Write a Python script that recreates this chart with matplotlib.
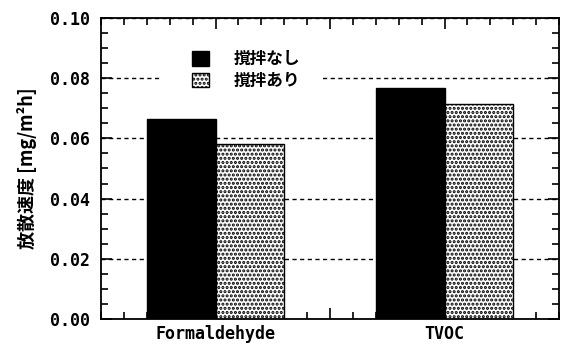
import matplotlib
matplotlib.use("Agg")
import matplotlib.pyplot as plt
from matplotlib.patches import Rectangle, Patch
from matplotlib.ticker import MultipleLocator, FixedLocator
import numpy as np

plt.rcParams['hatch.linewidth'] = 1.5

categories = ["Formaldehyde", "TVOC"]
series_names = ["撹拌なし", "撹拌あり"]
no_stirring = [0.0664, 0.0767]
with_stirring = [0.0582, 0.0713]
y_ticks = [0.00, 0.02, 0.04, 0.06, 0.08, 0.10]
y_tick_labels = ["0.00", "0.02", "0.04", "0.06", "0.08", "0.10"]
y_label = "放散速度 [mg/m²h]"

jp_bold = dict(family=['Noto Sans CJK JP', 'DejaVu Sans'], weight='bold')
mono_bold = dict(family='DejaVu Sans Mono', weight='bold')
dots = '....'

fig = plt.figure(figsize=(5.63, 3.44), dpi=100)
ax = fig.add_axes([0.1794, 0.0727, 0.8135, 0.875])

x = np.arange(len(categories))
w = 0.3
ax.bar(x - w / 2, no_stirring, width=w, color='black', edgecolor='black',
       linewidth=1.0, zorder=2, label=series_names[0])
ax.bar(x + w / 2, with_stirring, width=w, color='white', edgecolor='black',
       hatch=dots, linewidth=1.0, zorder=2, label=series_names[1])

ax.set_xlim(-0.5, 1.5)
ax.set_ylim(0, 0.10)

# dashed horizontal grid behind the bars
ax.set_axisbelow(True)
ax.yaxis.grid(True, linestyle=(0, (3, 2.5)), color='black', linewidth=1.0)
ax.xaxis.grid(False)

# white panel under the legend interrupts the grid
ax.add_patch(Rectangle((0.129, 0.728), 0.349, 0.2, transform=ax.transAxes,
                       facecolor='white', edgecolor='none', zorder=1))

ax.yaxis.set_major_locator(FixedLocator(y_ticks))
ax.set_yticklabels(y_tick_labels, fontsize=12, **mono_bold)
ax.yaxis.set_minor_locator(MultipleLocator(0.005))

ax.xaxis.set_major_locator(FixedLocator([0, 0.5, 1]))
ax.set_xticklabels([categories[0], "", categories[1]], fontsize=12, **mono_bold)
ax.xaxis.set_minor_locator(MultipleLocator(0.1))

ax.tick_params(which='both', direction='in', top=True, right=True,
               width=1.2, color='black')
ax.tick_params(which='major', length=8)
ax.tick_params(which='minor', length=5)
ax.tick_params(axis='y', which='major', pad=8)
ax.tick_params(axis='x', which='major', pad=4)

for s in ax.spines.values():
    s.set_linewidth(1.3)

ax.set_ylabel(y_label, fontsize=13, labelpad=9, **jp_bold)

handles = [Patch(facecolor='black', edgecolor='black'),
           Patch(facecolor='white', edgecolor='black', hatch=dots)]
leg = ax.legend(handles, series_names, loc='upper left',
                bbox_to_anchor=(0.199, 0.893), frameon=False,
                borderpad=0, borderaxespad=0, handlelength=1.0,
                handleheight=0.95, handletextpad=1.5, labelspacing=0.2,
                prop=dict(size=12, **jp_bold))
leg.set_zorder(5)

fig.savefig("out.png", dpi=100)
